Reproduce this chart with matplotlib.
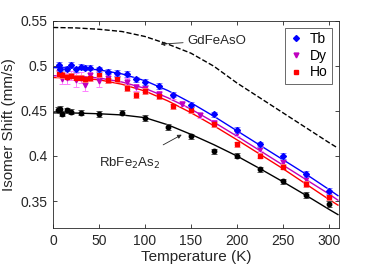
import matplotlib
matplotlib.use("Agg")
import matplotlib.pyplot as plt

plt.rcParams['font.family'] = ['Liberation Sans', 'DejaVu Sans']

# measured points
T_tb = [6, 8, 15, 20, 25, 30, 35, 40, 50, 60, 70, 80, 90, 100, 115, 130, 150, 175, 200, 225, 250, 275, 300]
IS_tb = [0.501, 0.497, 0.497, 0.501, 0.496, 0.499, 0.498, 0.498, 0.496, 0.4935, 0.492, 0.491, 0.485, 0.482,
         0.4775, 0.468, 0.457, 0.446, 0.429, 0.413, 0.400, 0.380, 0.361]
err_tb = [0.003] * len(T_tb)

T_dy = [6, 10, 15, 20, 25, 30, 35, 40, 50, 60, 70, 80, 90, 100, 115, 130, 140, 150, 160, 175, 200, 225, 250, 275, 300]
IS_dy = [0.4935, 0.485, 0.486, 0.489, 0.484, 0.487, 0.479, 0.490, 0.483, 0.486, 0.487, 0.482, 0.476, 0.475,
         0.469, 0.466, 0.458, 0.452, 0.445, 0.437, 0.425, 0.408, 0.393, 0.374, 0.358]
err_dy = [0.004, 0.005, 0.006, 0.005, 0.008, 0.006, 0.007, 0.006, 0.006, 0.005, 0.004, 0.004, 0.004, 0.004,
          0.003, 0.003, 0.003, 0.003, 0.003, 0.003, 0.003, 0.003, 0.003, 0.003, 0.003]

T_ho = [6, 8, 10, 15, 20, 25, 30, 35, 40, 50, 60, 70, 80, 90, 100, 115, 130, 150, 175, 200, 225, 250, 275, 300]
IS_ho = [0.491, 0.492, 0.490, 0.488, 0.489, 0.487, 0.487, 0.485, 0.486, 0.491, 0.484, 0.485, 0.4756, 0.4675,
         0.472, 0.466, 0.455, 0.451, 0.435, 0.413, 0.4005, 0.388, 0.369, 0.354]
err_ho = [0.003] * len(T_ho)

T_rb = [5, 7, 10, 15, 20, 30, 50, 75, 100, 125, 150, 175, 200, 225, 250, 275, 300]
IS_rb = [0.4515, 0.4525, 0.447, 0.4506, 0.449, 0.448, 0.4465, 0.448, 0.442, 0.432, 0.4217, 0.405, 0.4005,
         0.385, 0.372, 0.3567, 0.3466]
err_rb = [0.003] * len(T_rb)

# fitted curves
T_fit = [0, 25, 50, 75, 100, 125, 150, 175, 200, 225, 250, 275, 300, 310]
fit_tb = [0.498, 0.4975, 0.4955, 0.491, 0.4835, 0.4725, 0.459, 0.444, 0.428, 0.412, 0.396, 0.380, 0.363, 0.356]
fit_dy = [0.489, 0.4885, 0.4865, 0.482, 0.475, 0.4645, 0.452, 0.4375, 0.422, 0.406, 0.390, 0.374, 0.358, 0.351]
fit_ho = [0.487, 0.4865, 0.4845, 0.4795, 0.472, 0.461, 0.448, 0.4335, 0.418, 0.402, 0.386, 0.369, 0.352, 0.3455]
fit_rb = [0.4478, 0.4476, 0.4468, 0.4455, 0.4425, 0.4345, 0.424, 0.4125, 0.400, 0.386, 0.3715, 0.3565, 0.341, 0.335]
fit_gd = [0.5425, 0.542, 0.5405, 0.538, 0.5325, 0.524, 0.514, 0.4995, 0.481, 0.4645, 0.448, 0.4315, 0.415, 0.4087]

fig = plt.figure(figsize=(3.74, 2.69), dpi=100)
ax = fig.add_axes([0.142, 0.152, 0.764, 0.771])

gray = '#262626'

ax.plot(T_fit, fit_gd, '--', color='k', lw=1.0)
ax.plot(T_fit, fit_rb, '-', color='k', lw=1.0)
ax.plot(T_fit, fit_ho, '-', color='r', lw=1.0)
ax.plot(T_fit, fit_dy, '-', color='m', lw=1.0)
ax.plot(T_fit, fit_tb, '-', color='b', lw=1.0)

ax.errorbar(T_rb, IS_rb, yerr=err_rb, fmt='none', ecolor='#555555', elinewidth=0.7, capsize=2, capthick=0.7)
ax.plot(T_rb, IS_rb, 'o', color='k', ms=3.2, ls='none')
ax.errorbar(T_dy, IS_dy, yerr=err_dy, fmt='none', ecolor='#ff80ff', elinewidth=0.7, capsize=2, capthick=0.7)
h_dy, = ax.plot(T_dy, IS_dy, 'v', color='m', ms=3.5, ls='none', label='Dy')
ax.errorbar(T_ho, IS_ho, yerr=err_ho, fmt='none', ecolor='#ff8080', elinewidth=0.7, capsize=2, capthick=0.7)
h_ho, = ax.plot(T_ho, IS_ho, 's', color='r', ms=3, ls='none', label='Ho')
ax.errorbar(T_tb, IS_tb, yerr=err_tb, fmt='none', ecolor='#8080ff', elinewidth=0.7, capsize=2, capthick=0.7)
h_tb, = ax.plot(T_tb, IS_tb, 'D', color='b', ms=3, ls='none', label='Tb')

ax.annotate('GdFeAsO', xy=(117, 0.524), xytext=(146, 0.528), fontsize=9.5, color=gray, va='center',
            arrowprops=dict(arrowstyle='-|>', color=gray, lw=0.6, mutation_scale=6, shrinkA=1, shrinkB=0))
ax.annotate('RbFe$_2$As$_2$', xy=(140, 0.4236), xytext=(50, 0.392), fontsize=9.5, color=gray, va='center',
            arrowprops=dict(arrowstyle='-|>', color=gray, lw=0.6, mutation_scale=6, shrinkA=12, shrinkB=0))

ax.set_xlim(0, 311)
ax.set_ylim(0.32, 0.55)
ax.set_xticks([0, 50, 100, 150, 200, 250, 300])
ax.set_yticks([0.35, 0.4, 0.45, 0.5, 0.55])
ax.set_yticklabels(['0.35', '0.4', '0.45', '0.5', '0.55'])
ax.tick_params(direction='in', top=True, right=True, labelsize=10, colors=gray, length=3, width=0.6, pad=4)
for s in ax.spines.values():
    s.set_color(gray)
    s.set_linewidth(0.6)
ax.set_xlabel('Temperature (K)', fontsize=11, color=gray, labelpad=2)
ax.set_ylabel('Isomer Shift (mm/s)', fontsize=11, color=gray, labelpad=3)

leg = ax.legend(handles=[h_tb, h_dy, h_ho], loc='upper right', fontsize=10, frameon=True, fancybox=False,
                edgecolor=gray, handlelength=1.0, handletextpad=0.5, borderpad=0.3, labelspacing=0.2,
                borderaxespad=0.5)
leg.get_frame().set_linewidth(0.6)

fig.savefig('out.png', dpi=100)
